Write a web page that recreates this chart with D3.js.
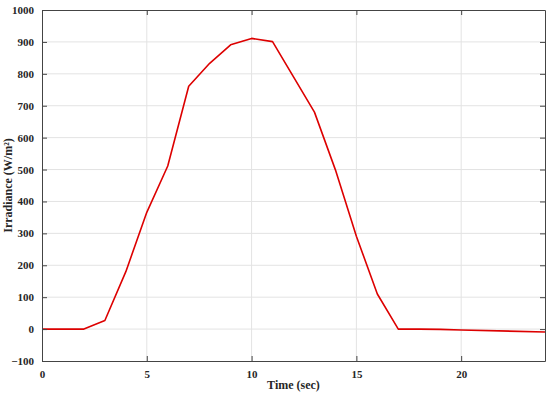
<!DOCTYPE html>
<html>
<head>
<meta charset="utf-8">
<script src="https://cdn.jsdelivr.net/npm/d3@7"></script>
<style>
  body { margin: 0; background: #fff; }
  text { font-family: "Liberation Serif", "Times New Roman", serif; font-weight: bold; fill: #262626; }
</style>
</head>
<body>
<svg id="chart" width="550" height="394"></svg>
<script>
// Irradiance profile over time
const timeSec = [0, 2, 3, 4, 5, 6, 7, 8, 9, 10, 11, 13, 14, 15, 16, 17, 18, 19, 20, 24];
const irradiance = [0, 0, 27, 180, 366, 511, 761, 833, 891, 911, 901, 680, 499, 291, 110, 0, 0, -1, -3, -9];
const xTicks = [0, 5, 10, 15, 20];
const yTicks = [-100, 0, 100, 200, 300, 400, 500, 600, 700, 800, 900, 1000];

const margin = { top: 10, right: 5, bottom: 33, left: 42 };
const width = 550, height = 394;

const svg = d3.select("#chart");

const x = d3.scaleLinear().domain([0, 24]).range([margin.left, width - margin.right]);
const y = d3.scaleLinear().domain([-100, 1000]).range([height - margin.bottom, margin.top]);

// grid
svg.append("g")
    .selectAll("line.gx")
    .data(xTicks.slice(1))
    .join("line")
    .attr("x1", d => x(d)).attr("x2", d => x(d))
    .attr("y1", y(1000)).attr("y2", y(-100))
    .attr("stroke", "#e3e3e3").attr("stroke-width", 1);

svg.append("g")
    .selectAll("line.gy")
    .data(yTicks.slice(1, -1))
    .join("line")
    .attr("y1", d => y(d)).attr("y2", d => y(d))
    .attr("x1", x(0)).attr("x2", x(24))
    .attr("stroke", "#e3e3e3").attr("stroke-width", 1);

// data line
const line = d3.line().x((d, i) => x(timeSec[i])).y(d => y(d));
svg.append("path")
    .datum(irradiance)
    .attr("d", line)
    .attr("fill", "none")
    .attr("stroke", "#dd0000")
    .attr("stroke-width", 1.6)
    .attr("stroke-linejoin", "round");

// axes (ticks inside)
const axisColor = "#444";
const xAxis = svg.append("g")
    .attr("transform", `translate(0,${y(-100)})`)
    .call(d3.axisBottom(x).tickValues(xTicks).tickSizeInner(-5).tickSizeOuter(0).tickPadding(9));
const yAxis = svg.append("g")
    .attr("transform", `translate(${x(0)},0)`)
    .call(d3.axisLeft(y).tickValues(yTicks).tickSizeInner(-5).tickSizeOuter(0).tickPadding(8)
        .tickFormat(d => d < 0 ? "\u2212" + Math.abs(d) : d));
svg.append("g")
    .attr("transform", `translate(0,${y(1000)})`)
    .call(d3.axisTop(x).tickValues(xTicks).tickSizeInner(-5).tickSizeOuter(0).tickFormat(""));
svg.append("g")
    .attr("transform", `translate(${x(24)},0)`)
    .call(d3.axisRight(y).tickValues(yTicks).tickSizeInner(-5).tickSizeOuter(0).tickFormat(""));

svg.selectAll(".domain, .tick line").attr("stroke", axisColor);
svg.selectAll(".tick text").attr("font-size", 11).attr("font-family", "Liberation Serif").attr("font-weight", "bold").attr("fill", "#262626");

// axis titles
svg.append("text")
    .attr("x", (x(0) + x(24)) / 2)
    .attr("y", 389)
    .attr("text-anchor", "middle")
    .attr("font-size", 12)
    .text("Time (sec)");

svg.append("text")
    .attr("transform", `translate(12,${(y(1000) + y(-100)) / 2}) rotate(-90)`)
    .attr("text-anchor", "middle")
    .attr("font-size", 12)
    .text("Irradiance (W/m\u00B2)");
</script>
</body>
</html>
